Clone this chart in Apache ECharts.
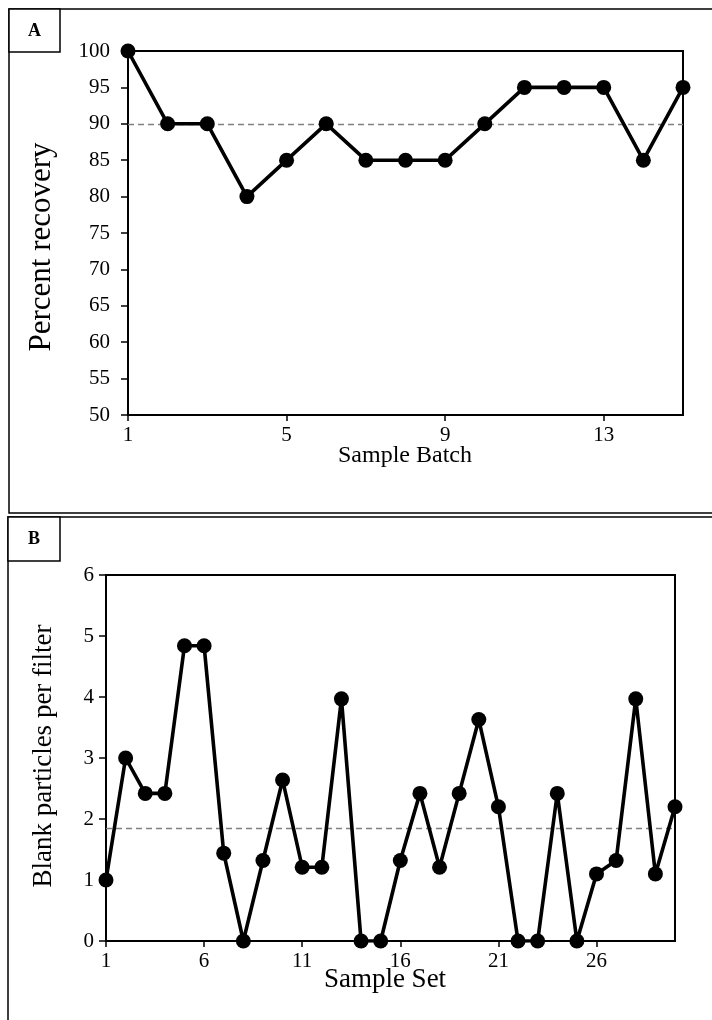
<!DOCTYPE html>
<html>
<head>
<meta charset="utf-8">
<script src="https://cdn.jsdelivr.net/npm/echarts@6/dist/echarts.min.js"></script>
<style>
  html, body { margin: 0; padding: 0; background: #fff; }
  #chart { width: 712px; height: 1020px; }
</style>
</head>
<body>
<div id="chart"></div>
<script>
// Panel A: recovery per sample batch
const batchLabels = ['1','2','3','4','5','6','7','8','9','10','11','12','13','14','15'];
const recoveryValues = [100, 90, 90, 80, 85, 90, 85, 85, 85, 90, 95, 95, 95, 85, 95];
const recoveryMean = 89.9;
const recoveryTicks = { min: 50, max: 100, step: 5 };

// Panel B: blank particles per filter for each sample set
const setLabels = ['1','2','3','4','5','6','7','8','9','10','11','12','13','14','15',
                   '16','17','18','19','20','21','22','23','24','25','26','27','28','29','30'];
const blankValues = [1.0, 3.0, 2.42, 2.42, 4.84, 4.84, 1.44, 0, 1.32, 2.64,
                     1.21, 1.21, 3.97, 0, 0, 1.32, 2.42, 1.21, 2.42, 3.63,
                     2.2, 0, 0, 2.42, 0, 1.1, 1.32, 3.97, 1.1, 2.2];
const blankMean = 1.85;
const blankTicks = { min: 0, max: 6, step: 1 };

const FONT = '"Liberation Serif", "Times New Roman", serif';
const INK = '#000';

const chart = echarts.init(document.getElementById('chart'), null, { renderer: 'canvas' });

function xAxisFor(gridIndex, data, every, fontSize) {
  return {
    type: 'category', gridIndex, data, boundaryGap: false,
    axisLine: { show: true, lineStyle: { color: INK, width: 2 } },
    axisTick: { show: true, interval: every - 1, length: 6, lineStyle: { color: INK, width: 1.5 } },
    axisLabel: { interval: every - 1, color: INK, fontFamily: FONT, fontSize, margin: 10 },
    splitLine: { show: false }
  };
}

function yAxisFor(gridIndex, t, fontSize, margin) {
  return {
    type: 'value', gridIndex, min: t.min, max: t.max, interval: t.step,
    axisLine: { show: true, lineStyle: { color: INK, width: 2 } },
    axisTick: { show: true, length: 7, lineStyle: { color: INK, width: 1.5 } },
    axisLabel: { color: INK, fontFamily: FONT, fontSize, margin },
    splitLine: { show: false }
  };
}

function lineSeries(axisIndex, values, mean) {
  return {
    type: 'line', xAxisIndex: axisIndex, yAxisIndex: axisIndex, data: values,
    symbol: 'circle', symbolSize: 15, showAllSymbol: true,
    lineStyle: { color: INK, width: 3.6 },
    itemStyle: { color: INK },
    emphasis: { disabled: true },
    z: 5,
    markLine: {
      silent: true, symbol: 'none', animation: false,
      label: { show: false },
      lineStyle: { color: '#808080', type: [6, 4], width: 1.3 },
      data: [{ yAxis: mean }]
    }
  };
}

chart.setOption({
  animation: false,
  backgroundColor: '#fff',
  grid: [
    { left: 128, top: 51, width: 555, height: 364, show: true, borderColor: INK, borderWidth: 2, backgroundColor: 'transparent' },
    { left: 106, top: 575, width: 569, height: 366, show: true, borderColor: INK, borderWidth: 2, backgroundColor: 'transparent' }
  ],
  xAxis: [
    xAxisFor(0, batchLabels, 4, 21),
    xAxisFor(1, setLabels, 5, 21)
  ],
  yAxis: [
    yAxisFor(0, recoveryTicks, 21, 18),
    yAxisFor(1, blankTicks, 21, 12)
  ],
  series: [
    lineSeries(0, recoveryValues, recoveryMean),
    lineSeries(1, blankValues, blankMean)
  ],
  graphic: [
    // panel frames
    { type: 'polyline', shape: { points: [[714, 9], [9, 9], [9, 513], [714, 513]] },
      style: { stroke: INK, lineWidth: 1.5, fill: null } },
    { type: 'polyline', shape: { points: [[714, 517], [8, 517], [8, 1022]] },
      style: { stroke: INK, lineWidth: 1.5, fill: null } },
    // panel letter boxes
    { type: 'rect', shape: { x: 9, y: 9, width: 51, height: 43 },
      style: { stroke: INK, lineWidth: 1.5, fill: '#fff' } },
    { type: 'text', x: 34.5, y: 31, style: { text: 'A', font: 'bold 18px ' + FONT, fill: INK, align: 'center', verticalAlign: 'middle' } },
    { type: 'rect', shape: { x: 8, y: 517, width: 52, height: 44 },
      style: { stroke: INK, lineWidth: 1.5, fill: '#fff' } },
    { type: 'text', x: 34, y: 539, style: { text: 'B', font: 'bold 18px ' + FONT, fill: INK, align: 'center', verticalAlign: 'middle' } },
    // axis titles
    { type: 'text', x: 42, y: 247, rotation: Math.PI / 2,
      style: { text: 'Percent recovery', font: '31px ' + FONT, fill: INK, align: 'center', verticalAlign: 'middle' } },
    { type: 'text', x: 405, y: 456,
      style: { text: 'Sample Batch', font: '24px ' + FONT, fill: INK, align: 'center', verticalAlign: 'middle' } },
    { type: 'text', x: 44, y: 756, rotation: Math.PI / 2,
      style: { text: 'Blank particles per filter', font: '27px ' + FONT, fill: INK, align: 'center', verticalAlign: 'middle' } },
    { type: 'text', x: 385, y: 980,
      style: { text: 'Sample Set', font: '27px ' + FONT, fill: INK, align: 'center', verticalAlign: 'middle' } }
  ]
});
</script>
</body>
</html>
